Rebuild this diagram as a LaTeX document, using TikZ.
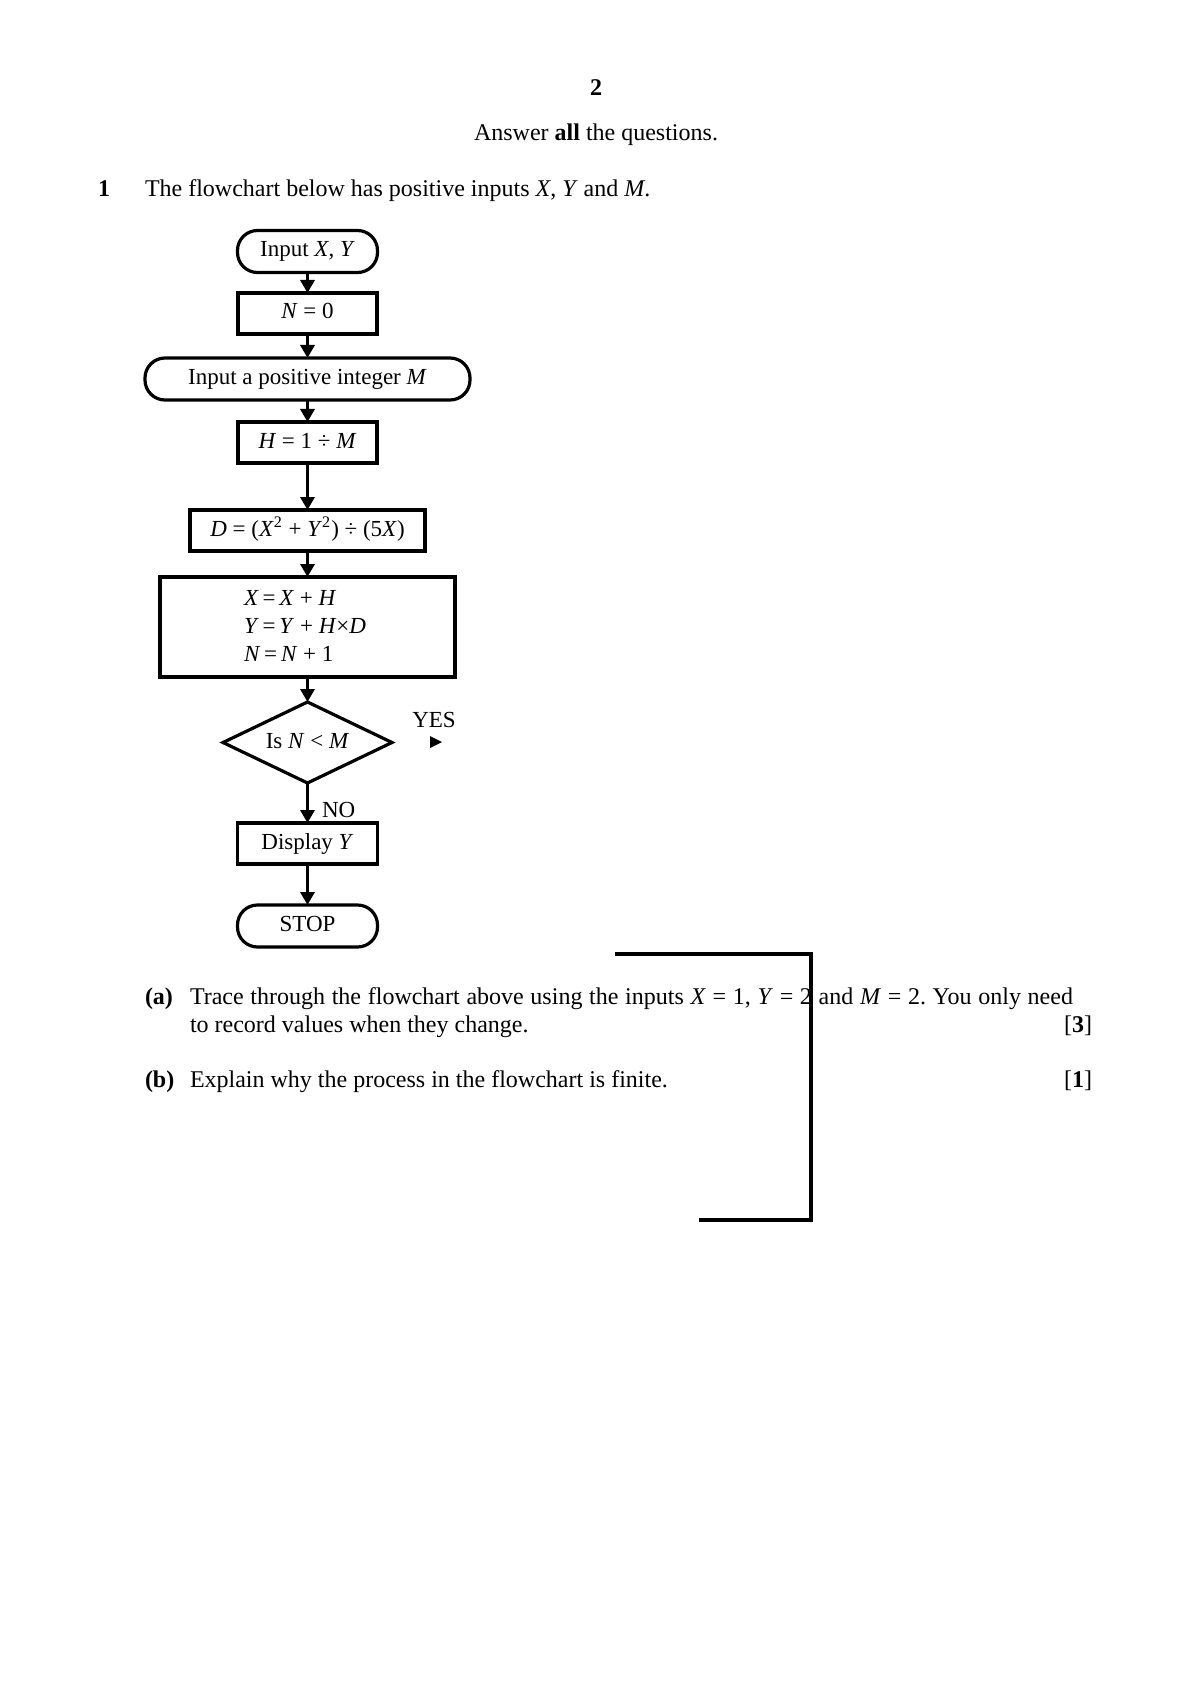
\documentclass[tikz,border=0pt]{standalone}
\usepackage{fontspec}
\setmainfont{Liberation Serif}
\usetikzlibrary{arrows.meta,shapes.geometric}
\begin{document}
\frenchspacing
\begin{tikzpicture}[x=0.5pt,y=-0.5pt,
  every node/.style={inner sep=0pt, outer sep=0pt},
  fc/.style={font=\fontsize{11.5}{14}\selectfont},
  body/.style={font=\fontsize{12}{14}\selectfont},
  procbox/.style={fc, draw, line width=1.6pt, rectangle, minimum height=20.5pt, text height=8pt, text depth=2.5pt},
  termbox/.style={fc, draw, line width=1.6pt, rectangle, rounded corners=10pt, minimum height=21pt, text height=8pt, text depth=2.5pt},
  decbox/.style={fc, draw, line width=1.6pt, diamond, aspect=2.1, minimum width=84.5pt, minimum height=40.5pt, text height=8pt, text depth=2.5pt},
  flowarrow/.style={line width=1.6pt, -{Triangle[length=6.5pt,width=7pt]}},
  bracketline/.style={line width=1.6pt},
]
\useasboundingbox (0,0) rectangle (1191,1684);

% header
\node[font=\fontsize{12}{14}\selectfont\bfseries, anchor=base] (pg) at (596,96) {2};
\node[body, anchor=base] (instr) at (596,141) {Answer \textbf{all} the questions.};
\node[body, anchor=base west] (qn) at (98,197) {\textbf{1}};
\node[body, anchor=base west] (qtext) at (145,197) {The flowchart below has positive inputs \textit{X}, \textit{Y} and \textit{M}.};

% flowchart
\node[termbox, minimum width=70pt] (inxy) at (307.5,251.5) {Input \textit{X}, \textit{Y}};
\node[procbox, minimum width=69.5pt] (n0) at (307.5,313.5) {\textit{N} = 0};
\node[termbox, minimum width=162.5pt] (inm) at (307.5,379) {Input a positive integer \textit{M}};
\node[procbox, minimum width=69.5pt] (h) at (307.5,442.5) {\textit{H} = 1 ÷ \textit{M}};
\node[procbox, minimum width=117.5pt] (d) at (307.5,530.5) {\textit{D} = (\textit{X}\textsuperscript{2} + \textit{Y}\textsuperscript{2}) ÷ (5\textit{X})};
\node[procbox, minimum width=147.5pt, minimum height=50pt] (upd) at (307.5,627) {};
\node[fc, anchor=base west] (l1) at (244,605) {\textit{X}\,=\,\textit{X} + \textit{H}};
\node[fc, anchor=base west] (l2) at (244,633) {\textit{Y}\,=\,\textit{Y} + \textit{H}×\textit{D}};
\node[fc, anchor=base west] (l3) at (244,661) {\textit{N}\,=\,\textit{N} + 1};
\node[decbox] (dec) at (307.5,742.5) {Is \textit{N} < \textit{M}};
\node[procbox, minimum width=70pt] (disp) at (307.5,843.5) {Display \textit{Y}};
\node[termbox, minimum width=70pt] (stop) at (307.5,926) {STOP};

\draw[flowarrow] (inxy.south) -- (n0.north);
\draw[flowarrow] (n0.south) -- (inm.north);
\draw[flowarrow] (inm.south) -- (h.north);
\draw[flowarrow] (h.south) -- (d.north);
\draw[flowarrow] (d.south) -- (upd.north);
\draw[flowarrow] (upd.south) -- (dec.north);
\draw[flowarrow] (dec.south) -- (disp.north);
\draw[flowarrow] (disp.south) -- (stop.north);

\node[fc, anchor=base] (yes) at (434,727) {YES};
\coordinate (yestip) at (442,742);
\fill (yestip) -- ++(-12,-6) -- ++(0,12) -- cycle;
\node[fc, anchor=base west] (no) at (322,817) {NO};

% part (a) and (b)
\node[body, anchor=base west] (pa) at (145,1004) {\textbf{(a)}};
\node[body, anchor=base west] (pat) at (190,1004) {\makebox[441.5pt][s]{Trace through the flowchart above using the inputs \textit{X} = 1, \textit{Y} = 2 and \textit{M} = 2. You only need}};
\node[body, anchor=base west] (pat2) at (190,1032) {to record values when they change.};
\node[body, anchor=base east] (m3) at (1092,1032) {[\textbf{3}]};
\node[body, anchor=base west] (pb) at (145,1087) {\textbf{(b)}};
\node[body, anchor=base west] (pbt) at (190,1087) {Explain why the process in the flowchart is finite.};
\node[body, anchor=base east] (m1) at (1092,1087) {[\textbf{1}]};

% bracket
\coordinate (bA) at (615,954);
\coordinate (bB) at (811,954);
\coordinate (bC) at (811,1220);
\coordinate (bD) at (699,1220);
\draw[bracketline] (bA) -- (bB) -- (bC) -- (bD);
\end{tikzpicture}
\end{document}
